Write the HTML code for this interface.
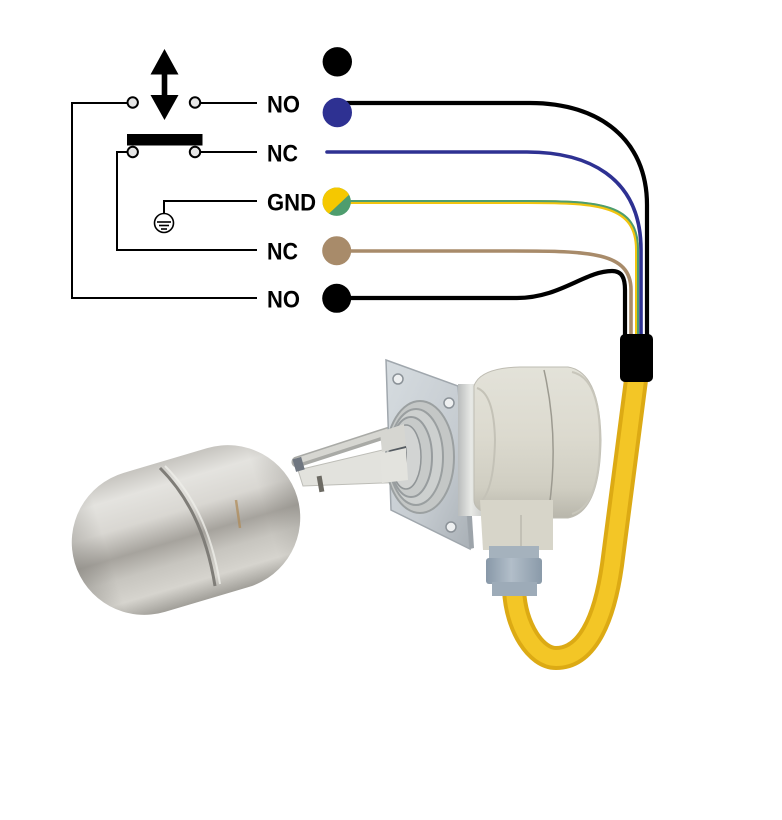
<!DOCTYPE html>
<html><head><meta charset="utf-8"><style>
html,body{margin:0;padding:0;background:#fff;}
svg{display:block;}
text{font-family:"Liberation Sans",sans-serif;font-weight:bold;font-size:24.5px;fill:#000;}
</style></head><body>
<svg width="782" height="820" viewBox="0 0 782 820" xmlns="http://www.w3.org/2000/svg">
<defs>
<linearGradient id="ballG" x1="0" y1="0" x2="0" y2="1">
<stop offset="0" stop-color="#c6c4bf"/>
<stop offset="0.16" stop-color="#e4e3df"/>
<stop offset="0.36" stop-color="#d9d7d2"/>
<stop offset="0.55" stop-color="#a6a39d"/>
<stop offset="0.7" stop-color="#c7c5bf"/>
<stop offset="0.86" stop-color="#d6d4ce"/>
<stop offset="1" stop-color="#a19f99"/>
</linearGradient>
<linearGradient id="ballE" x1="0" y1="0" x2="1" y2="0">
<stop offset="0" stop-color="#7a7873" stop-opacity="0.35"/>
<stop offset="0.15" stop-color="#7a7873" stop-opacity="0"/>
<stop offset="0.85" stop-color="#7a7873" stop-opacity="0"/>
<stop offset="1" stop-color="#7a7873" stop-opacity="0.25"/>
</linearGradient>
<linearGradient id="flG" x1="0" y1="0" x2="1" y2="1">
<stop offset="0" stop-color="#d6dce0"/>
<stop offset="0.6" stop-color="#c6ccd1"/>
<stop offset="1" stop-color="#a9b0b6"/>
</linearGradient>
<linearGradient id="hoG" x1="0" y1="0" x2="0" y2="1">
<stop offset="0" stop-color="#e3e2d9"/>
<stop offset="0.45" stop-color="#dcdacf"/>
<stop offset="0.8" stop-color="#d0cec2"/>
<stop offset="1" stop-color="#b8b6ab"/>
</linearGradient>
<linearGradient id="neckG" x1="0" y1="0" x2="1" y2="0">
<stop offset="0" stop-color="#b9bcbc"/>
<stop offset="0.5" stop-color="#e8e9e6"/>
<stop offset="1" stop-color="#c8cac7"/>
</linearGradient>
<linearGradient id="glG" x1="0" y1="0" x2="1" y2="0">
<stop offset="0" stop-color="#8898a8"/>
<stop offset="0.45" stop-color="#b2bec9"/>
<stop offset="1" stop-color="#8a9aa9"/>
</linearGradient>
</defs>

<!-- float ball -->
<g transform="rotate(-16.5 186 530)">
<rect x="70" y="457.5" width="232" height="145" rx="72.5" fill="url(#ballG)"/>
<rect x="70" y="457.5" width="232" height="145" rx="72.5" fill="url(#ballE)"/>
</g>
<path d="M160,468 C186,494 206,530 215,586" fill="none" stroke="#7f7d78" stroke-width="3"/>
<path d="M165,466 C191,492 211,528 220,584" fill="none" stroke="#eeede9" stroke-width="2" opacity="0.8"/>
<path d="M236,500 L240,528" stroke="#b08a55" stroke-width="2.5" opacity="0.7"/>

<!-- stem -->
<polygon points="298,470 408,444 410,482 303,486" fill="#e2e2dd" stroke="#bdbdb7" stroke-width="1"/>
<line x1="297" y1="462" x2="405" y2="427" stroke="#a9aaa6" stroke-width="11" stroke-linecap="round"/>
<line x1="297" y1="461" x2="405" y2="426" stroke="#d6d6d1" stroke-width="6" stroke-linecap="round"/>
<rect x="318" y="476" width="5" height="16" fill="#6c6a63" transform="rotate(-10 320 484)"/>
<rect x="294" y="458" width="9" height="13" fill="#6f7680" transform="rotate(-16 298 464)"/>

<!-- flange -->
<polygon points="386,360 458,386 470,549 391,510" fill="url(#flG)" stroke="#a0a7ad" stroke-width="1.5"/>
<polygon points="458,386 464,390 474,548 470,549" fill="#9da4aa"/>
<circle cx="398" cy="379" r="5" fill="#eef0f1" stroke="#8b9298" stroke-width="1.5"/>
<circle cx="449" cy="403" r="5" fill="#eef0f1" stroke="#8b9298" stroke-width="1.5"/>
<circle cx="451" cy="527" r="5" fill="#eef0f1" stroke="#8b9298" stroke-width="1.5"/>
<!-- threaded boss -->
<ellipse cx="420" cy="457" rx="34" ry="56" fill="#c4c7c6" stroke="#9ba0a1" stroke-width="2"/>
<ellipse cx="416" cy="457" rx="27" ry="48" fill="#cdd0cf" stroke="#9a9fa0" stroke-width="2"/>
<ellipse cx="411" cy="457" rx="21" ry="40" fill="#c7cac9" stroke="#979c9e" stroke-width="2"/>
<ellipse cx="406" cy="457" rx="15" ry="32" fill="#d2d4d3" stroke="#909597" stroke-width="1.5"/>
<ellipse cx="398" cy="457" rx="9" ry="24" fill="#555b61"/>
<polygon points="380,432 404,424 406,446 382,452" fill="#d6d6d1"/>
<polygon points="380,454 406,448 408,480 382,483" fill="#e3e3de"/>

<!-- neck -->
<rect x="458" y="384" width="26" height="132" fill="url(#neckG)"/>

<!-- housing -->
<path d="M474,386 Q480,368 520,367 L568,367 Q600,372 601,440 Q600,512 568,518 L515,518 Q474,516 474,500 Z" fill="url(#hoG)" stroke="#bebcb2" stroke-width="1"/>
<path d="M477,388 Q494,394 495,440 Q494,495 477,505" fill="none" stroke="#c4c2b7" stroke-width="2"/>
<path d="M544,370 Q560,440 548,515" fill="none" stroke="#9c9a90" stroke-width="1.5"/>
<path d="M572,372 Q600,378 600,440 Q600,505 572,514" fill="none" stroke="#c8c6bb" stroke-width="2"/>

<!-- elbow -->
<path d="M480,500 L553,500 L553,550 L483,550 Z" fill="#d7d5c9"/>
<line x1="521" y1="515" x2="521" y2="550" stroke="#bbb9ae" stroke-width="1.5"/>

<!-- yellow cable -->
<path d="M514,590 C516,628 536,658 556,658 C586,658 604,622 612,565 C620,505 628,440 636,380" fill="none" stroke="#dcaa14" stroke-width="24" stroke-linecap="butt"/>
<path d="M514,590 C516,628 536,658 556,658 C586,658 604,622 612,565 C620,505 628,440 636,380" fill="none" stroke="#f3c626" stroke-width="16" stroke-linecap="butt"/>

<!-- gland -->
<rect x="489" y="546" width="50" height="14" fill="#a5b2bd"/>
<rect x="486" y="558" width="56" height="26" rx="3" fill="url(#glG)"/>
<rect x="492" y="582" width="45" height="14" fill="#9dabb8"/>

<!-- wires -->
<g fill="none" stroke-linecap="round">
<path d="M337,103 H530 C600,103 647,140 647,205 V340" stroke="#000" stroke-width="4.2"/>
<path d="M327,152 H527 C585,152 641,175 641,250 V340" stroke="#2e3192" stroke-width="3.6"/>
<path d="M350,202 H527 C600,202 637,205 637,250 V340" stroke="#f1c40f" stroke-width="4"/>
<path d="M350,202 H527 C600,202 637,205 637,250 V340" stroke="#4e9d6e" stroke-width="2" transform="translate(1,-1)"/>
<path d="M350,251 H513 C590,251 631,252 631,290 V340" stroke="#a88b6a" stroke-width="3.6"/>
<path d="M337,298 H517 C560,298 585,271 612,271 C622,271 625,278 625,290 V340" stroke="#000" stroke-width="4.2"/>
</g>
<rect x="620" y="334" width="33" height="48" rx="5" fill="#000"/>

<!-- dots -->
<circle cx="337.3" cy="61.8" r="14.7" fill="#000"/>
<circle cx="337.3" cy="112.5" r="14.7" fill="#2e3192"/>
<clipPath id="gc"><circle cx="336.7" cy="201.7" r="14.2"/></clipPath>
<g clip-path="url(#gc)">
<rect x="320" y="185" width="34" height="34" fill="#4e9d6e"/>
<polygon points="320,185 354,185 354,190 320,222" fill="#f5c800"/>
</g>
<circle cx="336.7" cy="250.7" r="14.5" fill="#a88b6a"/>
<circle cx="336.7" cy="298.3" r="14.5" fill="#000"/>

<!-- schematic -->
<g fill="none" stroke="#000" stroke-width="2">
<path d="M127.5,103 H72 V298 H257"/>
<path d="M200.3,103 H257"/>
<path d="M200.3,152 H257"/>
<path d="M127.5,152 H117 V250 H257"/>
<path d="M257,201 H164 V213.5"/>
</g>
<circle cx="132.7" cy="102.5" r="5.2" fill="#e6e6e6" stroke="#000" stroke-width="2"/>
<circle cx="195" cy="102.5" r="5.2" fill="#e6e6e6" stroke="#000" stroke-width="2"/>
<rect x="127" y="134" width="75.5" height="11.5" fill="#000"/>
<circle cx="132.7" cy="152" r="5.2" fill="#e6e6e6" stroke="#000" stroke-width="2"/>
<circle cx="195" cy="152" r="5.2" fill="#e6e6e6" stroke="#000" stroke-width="2"/>
<!-- arrow -->
<polygon points="164.5,49 178.5,74.5 150.5,74.5" fill="#000"/>
<rect x="161.7" y="73" width="5.6" height="23" fill="#000"/>
<polygon points="150.5,95 178.5,95 164.5,120" fill="#000"/>
<!-- earth symbol -->
<circle cx="164" cy="223" r="9.5" fill="#fff" stroke="#000" stroke-width="1.6"/>
<g stroke="#000" stroke-width="1.6">
<line x1="157" y1="222" x2="171" y2="222"/>
<line x1="159" y1="225.5" x2="169" y2="225.5"/>
<line x1="161" y1="229" x2="167" y2="229"/>
</g>

<!-- labels -->
<text x="267" y="112.5" textLength="33" lengthAdjust="spacingAndGlyphs">NO</text>
<text x="267" y="161.5" textLength="31" lengthAdjust="spacingAndGlyphs">NC</text>
<text x="267" y="210.7" textLength="49" lengthAdjust="spacingAndGlyphs">GND</text>
<text x="267" y="259.5" textLength="31" lengthAdjust="spacingAndGlyphs">NC</text>
<text x="267" y="307.5" textLength="33" lengthAdjust="spacingAndGlyphs">NO</text>
</svg>
</body></html>
